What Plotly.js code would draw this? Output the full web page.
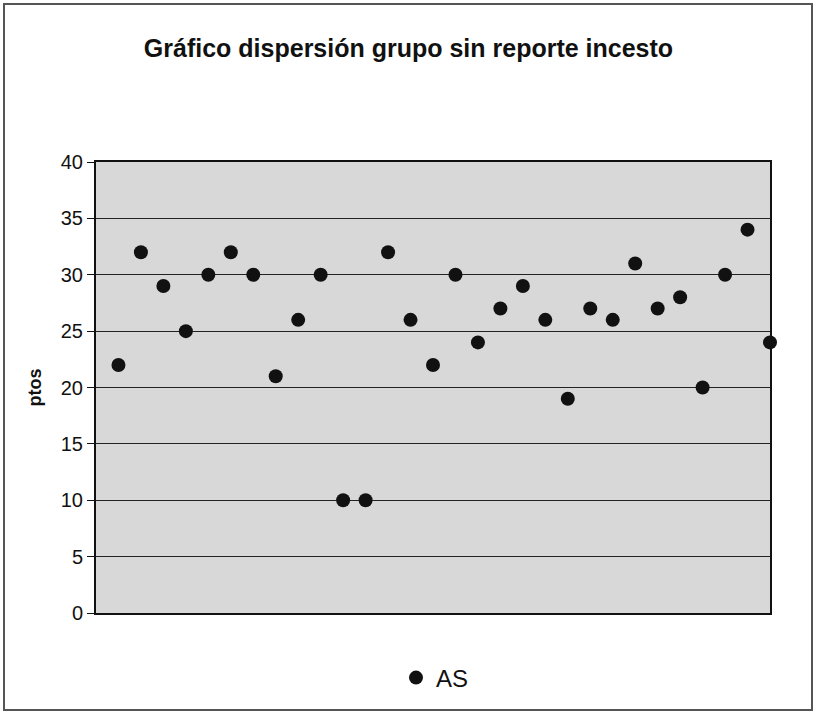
<!DOCTYPE html>
<html>
<head>
<meta charset="utf-8">
<script src="https://cdn.plot.ly/plotly-3.0.1.min.js"></script>
<style>html,body{margin:0;padding:0;background:#fff;}#chart{width:817px;height:714px;}</style>
</head>
<body>
<div id="chart"></div>
<script>
const subjects = [1,2,3,4,5,6,7,8,9,10,11,12,13,14,15,16,17,18,19,20,21,22,23,24,25,26,27,28,29,30];
const asScores = [22,32,29,25,30,32,30,21,26,30,10,10,32,26,22,30,24,27,29,26,19,27,26,31,27,28,20,30,34,24];
const yTicks = [0,5,10,15,20,25,30,35,40];
const seriesName = 'AS';

const L = 96, R = 770, T = 162, B = 613, W = 817, H = 714;
const px = v => (v - L) / (R - L);
const py = v => (B - v) / (B - T);

const trace = {
  x: subjects, y: asScores, name: seriesName,
  type: 'scatter', mode: 'markers',
  marker: {color: '#111', size: 14, line: {width: 0}},
  cliponaxis: false
};

const layout = {
  width: W, height: H,
  margin: {l: L, r: W - R, t: T, b: H - B, pad: 0},
  paper_bgcolor: '#ffffff',
  plot_bgcolor: '#d8d8d8',
  font: {family: 'Liberation Sans, Arial, sans-serif', color: '#111'},
  title: {text: '<b>Gráfico dispersión grupo sin reporte incesto</b>',
          font: {size: 25, family: 'Liberation Sans, Arial, sans-serif', color: '#111'},
          x: 0.5, xanchor: 'center', xref: 'container', y: 1 - 48 / H, yanchor: 'middle', yref: 'container'},
  xaxis: {range: [0, 30], showticklabels: false, ticks: '', showgrid: false, zeroline: false,
          showline: true, linecolor: '#111', linewidth: 2, mirror: true, fixedrange: true},
  yaxis: {range: [0, 40], tickvals: yTicks, ticktext: yTicks.map(String), ticks: 'outside',
          ticklen: 7, tickcolor: '#111', tickwidth: 1,
          tickfont: {size: 20, color: '#111'},
          showgrid: true, gridcolor: '#222', gridwidth: 1, zeroline: false,
          showline: true, linecolor: '#111', linewidth: 2, mirror: true,
          title: {text: '<b>ptos</b>', font: {size: 18, color: '#111'}, standoff: 14}},
  showlegend: true,
  legend: {x: px(396), y: py(678), xanchor: 'left', yanchor: 'middle',
           font: {size: 24, color: '#111'}, bgcolor: 'rgba(0,0,0,0)', itemwidth: 30},
  shapes: [{type: 'rect', xref: 'paper', yref: 'paper',
            x0: px(4), x1: px(812), y0: py(710), y1: py(4),
            line: {color: '#555', width: 2}, fillcolor: 'rgba(0,0,0,0)', layer: 'below'}]
};

Plotly.newPlot('chart', [trace], layout, {displayModeBar: false, staticPlot: true});
</script>
</body>
</html>
